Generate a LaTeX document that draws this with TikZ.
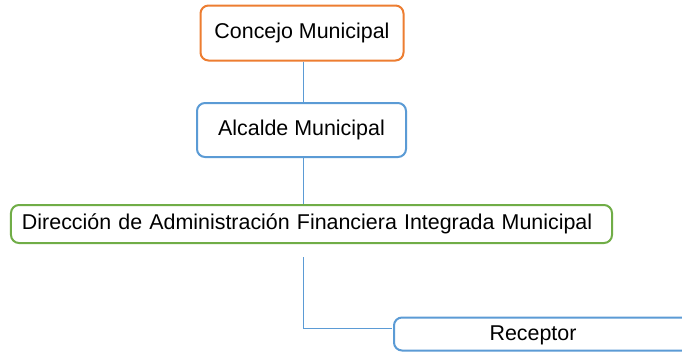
\documentclass[tikz,border=0pt]{standalone}
\usepackage{fontspec}
\setmainfont{Liberation Sans}
\definecolor{orgc}{HTML}{ED7D31}
\definecolor{bluec}{HTML}{5B9BD5}
\definecolor{greenc}{HTML}{70AD47}
\begin{document}
\begin{tikzpicture}[x=1bp,y=-1bp,
  box/.style={draw,line width=2bp,rounded corners=8bp,fill=white,inner sep=0pt,
    font=\fontsize{21.5}{25}\selectfont},
  conn/.style={draw=bluec,line width=1bp}]
\clip (0,0) rectangle (682,352);
\fill[white] (0,0) rectangle (682,352);
\node[box,draw=orgc,minimum width=203bp,minimum height=55bp] (concejo) at (302,33) {Concejo Municipal};
\node[box,draw=bluec,minimum width=209bp,minimum height=54bp] (alcalde) at (301.5,130) {Alcalde Municipal};
\node[box,draw=greenc,minimum height=38bp,inner xsep=11bp,text width=579bp,align=left] (dafim) at (311.5,224) {Dirección de Administración Financiera Integrada Municipal};
\node[box,draw=bluec,minimum width=304bp,minimum height=33bp] (receptor) at (546,334) {};
\node[font=\fontsize{21.5}{25}\selectfont,inner sep=0pt] (receptorlabel) at (533,335) {Receptor};
\draw[conn] (concejo.south -| 303,0) -- (alcalde.north -| 303,0);
\draw[conn] (alcalde.south -| 303,0) -- (dafim.north -| 303,0);
\coordinate (c1) at (303,257);
\coordinate (c2) at (392,328);
\draw[conn] (c1) |- (c2);
\end{tikzpicture}
\end{document}
